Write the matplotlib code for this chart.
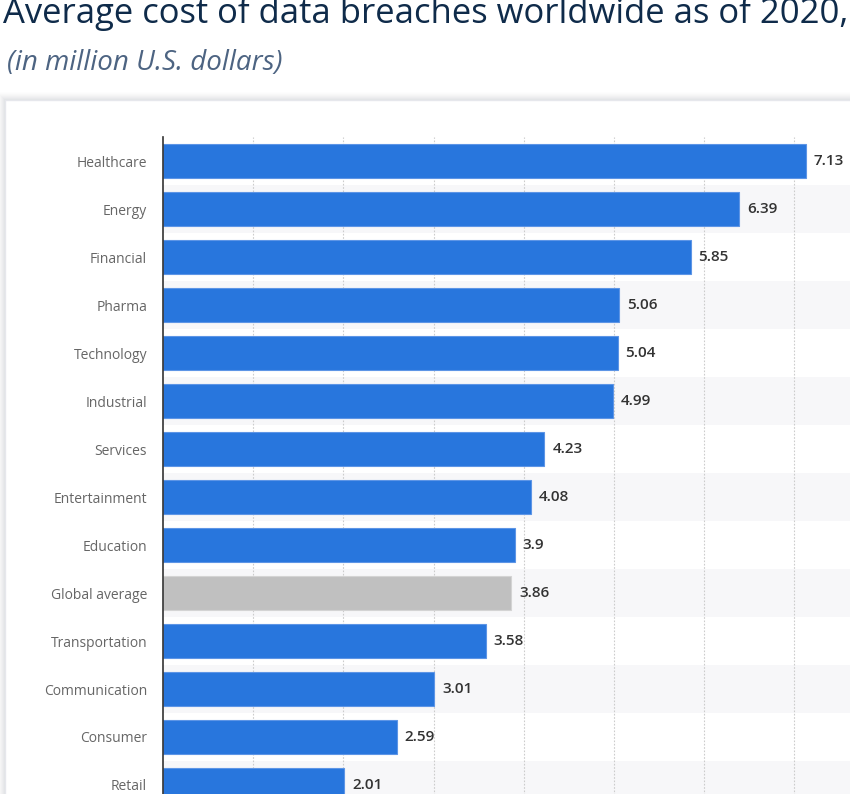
import matplotlib
matplotlib.use("Agg")
import matplotlib.pyplot as plt
from matplotlib.patches import Rectangle

categories = ["Healthcare", "Energy", "Financial", "Pharma", "Technology", "Industrial",
              "Services", "Entertainment", "Education", "Global average", "Transportation",
              "Communication", "Consumer", "Retail"]
values = [7.13, 6.39, 5.85, 5.06, 5.04, 4.99, 4.23, 4.08, 3.9, 3.86, 3.58, 3.01, 2.59, 2.01]
value_labels = ["7.13", "6.39", "5.85", "5.06", "5.04", "4.99", "4.23", "4.08", "3.9",
                "3.86", "3.58", "3.01", "2.59", "2.01"]
highlight = "Global average"

W, H = 850, 794
fig = plt.figure(figsize=(W / 100, H / 100), dpi=100)
fig.patch.set_facecolor("white")

FONT = "Open Sans"

# title / subtitle
fig.text(3 / W, 1 - 23 / H, "Average cost of data breaches worldwide as of 2020,",
         fontsize=24.9, family=FONT, color="#0f2b4a", ha="left", va="baseline")
fig.text(7 / W, 1 - 70 / H, "(in million U.S. dollars)", fontsize=20, family=FONT,
         style="italic", color="#4d6482", ha="left", va="baseline")

# card with soft shadow
for k, a in enumerate([0.006, 0.008, 0.010, 0.012, 0.014, 0.016, 0.018, 0.02]):
    off = 8 - k
    fig.patches.append(Rectangle(((5 - off) / W, -0.1), 1.2, (1 - (100 - off) / H) + 0.1,
                                 transform=fig.transFigure, facecolor="#1a2a4a", alpha=a,
                                 edgecolor="none", zorder=0))
fig.patches.append(Rectangle((5 / W, -0.1), 1.2, (1 - 100 / H) + 0.1, transform=fig.transFigure,
                             facecolor="white", edgecolor="#e6e7ec", linewidth=1, zorder=1))

left = 163 / W
right = 1.0
top_px, bot_px = 137, 809
ax = fig.add_axes([left, 1 - bot_px / H, right - left, (bot_px - top_px) / H])
ax.set_zorder(2)
ax.patch.set_alpha(0)

px_per_unit = (806 - 163) / 7.13
ax.set_xlim(0, (W - 163) / px_per_unit)
n = len(categories)
ax.set_ylim(n - 0.5, -0.5)

# alternating stripes
for i in range(n):
    if i % 2 == 1:
        ax.axhspan(i - 0.5, i + 0.5, color="#f7f7f9", zorder=0, lw=0)

# gridlines
for xv in range(1, 8):
    ax.axvline(xv, color="#cccccc", lw=0.8, ls=(0, (1.5, 1.5)), zorder=1)

colors = ["#c0c0c0" if c == highlight else "#2876dd" for c in categories]
edges = ["#d4d4d4" if c == highlight else "#5d95e6" for c in categories]
ax.barh(range(n), values, height=0.71, color=colors, edgecolor=edges, linewidth=0.8, zorder=2)

for i, (v, lab) in enumerate(zip(values, value_labels)):
    ax.text(v + 8 / px_per_unit, i, lab, va="center", ha="left", fontsize=11,
            family=FONT, fontweight="semibold", color="#333333", zorder=3)

ax.set_yticks(range(n))
ax.set_yticklabels(categories, family=FONT, fontsize=10, color="#666666")
ax.tick_params(axis="y", length=0, pad=11.5)
ax.set_xticks([])
for s in ["top", "right", "bottom"]:
    ax.spines[s].set_visible(False)
ax.spines["left"].set_color("#333333")
ax.spines["left"].set_linewidth(1.2)
ax.spines["left"].set_zorder(4)

fig.savefig("out.png", dpi=100)
